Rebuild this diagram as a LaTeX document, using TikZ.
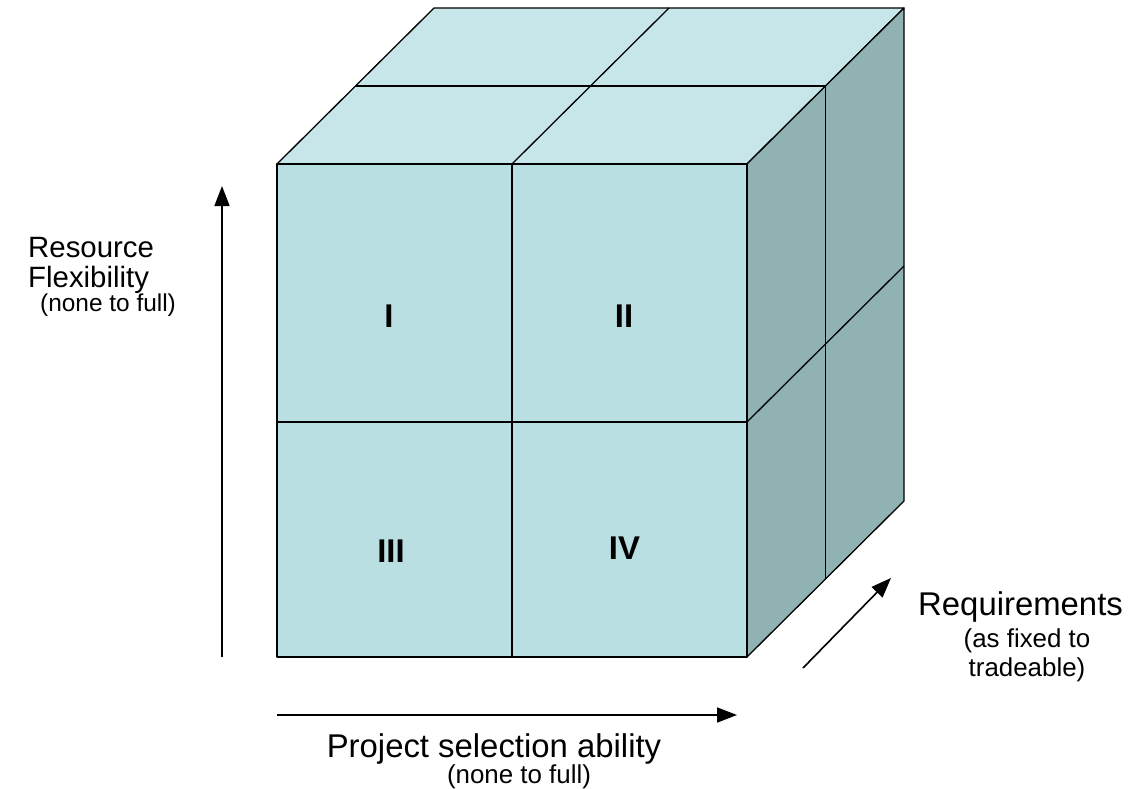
\documentclass[tikz,border=0pt]{standalone}
\usepackage{fontspec}
\setmainfont{Liberation Sans}
\usetikzlibrary{arrows.meta}
\definecolor{frontc}{RGB}{185,223,226}
\definecolor{topc}{RGB}{199,230,233}
\definecolor{sidec}{RGB}{144,178,179}
\begin{document}
\begin{tikzpicture}[x=1bp,y=-1bp,
  edge/.style={draw=black,line width=1.3bp,line join=round},
  axis/.style={line width=1.6bp,-{Triangle[width=15bp,length=20bp]}},
  biglab/.style={font=\fontsize{33}{38}\selectfont,inner sep=0pt},
  leftlab/.style={font=\fontsize{29.5}{34}\selectfont,inner sep=0pt},
  smalllab/.style={font=\fontsize{26}{30}\selectfont,inner sep=0pt},
  leftsmall/.style={font=\fontsize{24.5}{30}\selectfont,inner sep=0pt},
  roman/.style={font=\fontsize{33}{40}\selectfont\bfseries,inner sep=0pt}]
\useasboundingbox (0,0) rectangle (1130,789);
% cube corners
\coordinate (FTL) at (277,164);
\coordinate (FTR) at (747,164);
\coordinate (FBR) at (747,657);
\coordinate (FBL) at (277,657);
\coordinate (BTL) at (434,8);
\coordinate (BTR) at (904,8);
\coordinate (BBR) at (904,501);
% faces
\filldraw[edge,fill=topc] (FTL) -- (BTL) -- (BTR) -- (FTR) -- cycle;
\filldraw[edge,fill=sidec] (FTR) -- (BTR) -- (BBR) -- (FBR) -- cycle;
\filldraw[edge,fill=frontc] (FTL) rectangle (FBR);
% divisions
\draw[edge] (512,164) -- (512,657);
\draw[edge] (277,422) -- (747,422);
\draw[edge] (512,164) -- (669,8);
\draw[edge] (355.5,86) -- (825.5,86);
\draw[edge] (825.5,86) -- (825.5,579);
\draw[edge] (747,422) -- (904,266);
% numerals
\node[roman] (n1) at (389,316) {I};
\node[roman] (n2) at (624,316) {II};
\node[roman] (n3) at (391,551) {III};
\node[roman] (n4) at (624.5,548) {IV};
% axes
\coordinate (vS) at (222,657);
\coordinate (vE) at (222,186);
\coordinate (hS) at (277,715);
\coordinate (hE) at (737,715);
\coordinate (rS) at (803,668);
\coordinate (rE) at (891,578);
\draw[axis] (vS) -- (vE);
\draw[axis] (hS) -- (hE);
\draw[axis] (rS) -- (rE);
% labels
\node[leftlab,anchor=base west] (res) at (28,257) {Resource};
\node[leftlab,anchor=base west] (flex) at (28,287) {Flexibility};
\node[leftsmall,anchor=base west] (rsub) at (40,311) {(none to full)};
\node[biglab,anchor=base] (proj) at (494,757) {Project selection ability};
\node[smalllab,anchor=base] (psub) at (519,783) {(none to full)};
\node[biglab,anchor=base west] (req) at (918,615) {Requirements};
\node[smalllab,anchor=base] (qsub1) at (1027,647) {(as fixed to};
\node[smalllab,anchor=base] (qsub2) at (1027,676) {tradeable)};
\end{tikzpicture}
\end{document}
